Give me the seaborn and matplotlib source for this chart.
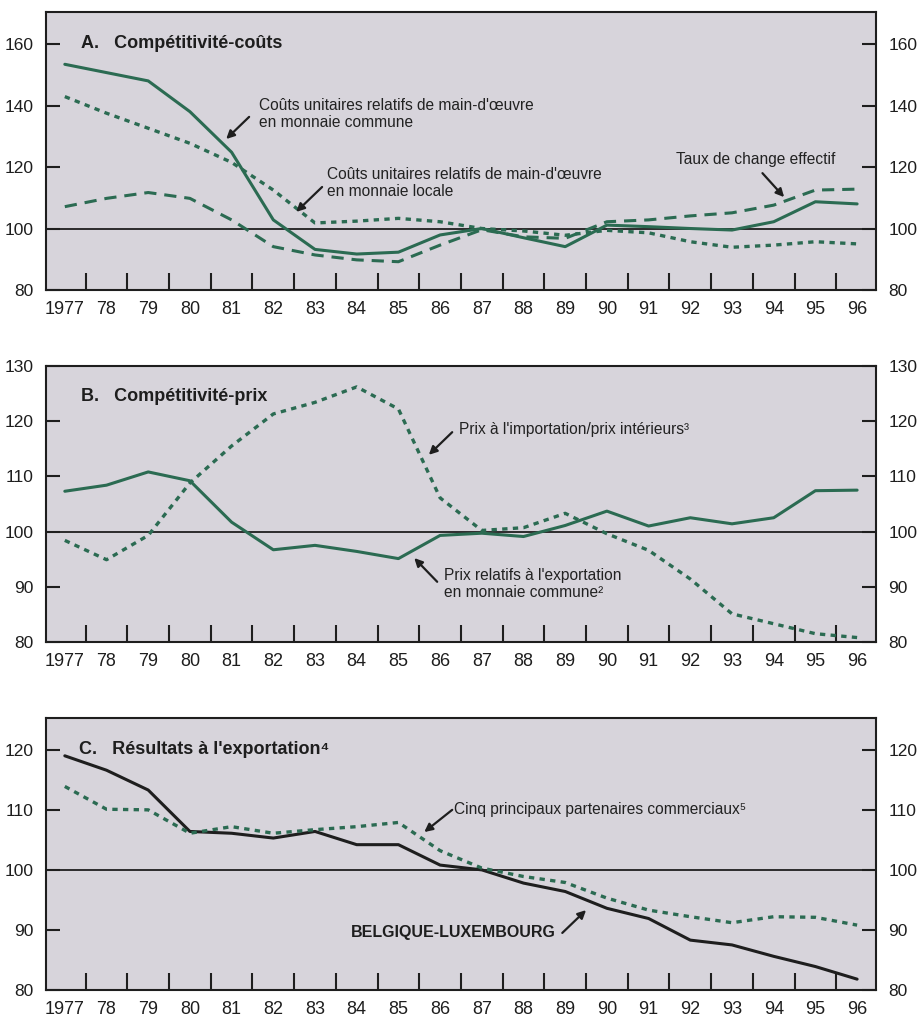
import seaborn as sns
import matplotlib.pyplot as plt
import pandas as pd
import numpy as np

# Data (index 1995 = 100)
years = ['1977', '78', '79', '80', '81', '82', '83', '84', '85', '86',
         '87', '88', '89', '90', '91', '92', '93', '94', '95', '96']

# A. Cost competitiveness
ulc_common = [153.4, 150.7, 148.0, 138.0, 124.8, 102.8, 93.2, 91.7, 92.3, 97.9,
              100.0, 97.0, 94.1, 101.1, 100.6, 100.0, 99.5, 102.2, 108.7, 108.0]
ulc_local = [142.9, 137.5, 132.6, 127.7, 121.5, 112.5, 101.8, 102.4, 103.3, 102.2,
             100.0, 99.2, 97.8, 99.4, 98.6, 95.7, 93.9, 94.6, 95.7, 95.0]
eff_rate = [107.1, 109.8, 111.7, 109.8, 102.8, 94.1, 91.4, 89.8, 89.2, 94.6,
            99.6, 97.3, 96.8, 102.2, 102.8, 104.1, 105.1, 107.6, 112.5, 112.8]

# B. Price competitiveness
export_prices = [107.3, 108.4, 110.8, 109.2, 101.7, 96.7, 97.5, 96.4, 95.1, 99.3,
                 99.7, 99.1, 101.1, 103.7, 101.0, 102.5, 101.4, 102.5, 107.4, 107.5]
import_prices = [98.4, 94.9, 99.3, 108.8, 115.5, 121.3, 123.4, 126.2, 122.2, 106.1,
                 100.2, 100.7, 103.3, 99.6, 96.6, 91.4, 85.1, 83.3, 81.5, 80.8]

# C. Export performance
belux = [119.0, 116.6, 113.3, 106.4, 106.1, 105.3, 106.4, 104.2, 104.2, 100.8,
         100.0, 97.8, 96.4, 93.6, 91.9, 88.3, 87.5, 85.6, 83.9, 81.8]
partners = [113.9, 110.1, 110.0, 106.1, 107.2, 106.1, 106.7, 107.2, 107.9, 103.2,
            100.3, 98.9, 97.9, 95.3, 93.3, 92.2, 91.2, 92.2, 92.1, 90.8]

GREEN = '#2b6b52'
DARK = '#1e1e1e'
BG = '#d7d4db'

sns.set_theme(style='ticks')
plt.rcParams['font.family'] = ['Liberation Sans Narrow', 'Liberation Sans', 'DejaVu Sans']

x = np.arange(len(years))
df = pd.DataFrame({'x': x, 'ulc_common': ulc_common, 'ulc_local': ulc_local,
                   'eff_rate': eff_rate, 'export_prices': export_prices,
                   'import_prices': import_prices, 'belux': belux, 'partners': partners})

fig = plt.figure(figsize=(9.21, 10.19), dpi=100)
L, W = 0.05, 0.901
axA = fig.add_axes([L, 0.7154, W, 0.2728])
axB = fig.add_axes([L, 0.3700, W, 0.2709])
axC = fig.add_axes([L, 0.0285, W, 0.2669])

dotted = (0, (1.6, 1.6))
dashed = (0, (4.0, 2.6))

def style_axis(ax, ylim, yticks):
    ax.set_facecolor(BG)
    ax.set_xlim(-0.45, 19.45)
    ax.set_ylim(*ylim)
    ax.axhline(100, color=DARK, lw=1.3, zorder=1)
    ax.set_xticks(x)
    ax.set_xticklabels(years)
    ax.set_xticks(np.arange(0.5, 19), minor=True)
    ax.tick_params(axis='x', which='major', length=0, pad=8, labelsize=13, colors=DARK)
    ax.tick_params(axis='x', which='minor', direction='in', length=12, width=1.5, color=DARK)
    ax.set_yticks(yticks)
    ax.tick_params(axis='y', direction='in', length=10, width=1.5, color=DARK,
                   left=True, right=True, labelleft=True, labelright=True,
                   labelsize=12.5, pad=9, labelcolor=DARK)
    for s in ax.spines.values():
        s.set_visible(True)
        s.set_color(DARK)
        s.set_linewidth(1.5)
    ax.set_xlabel('')
    ax.set_ylabel('')

arrow_kw = dict(arrowstyle='-|>', color=DARK, lw=1.6, mutation_scale=12, shrinkA=0, shrinkB=0)
lab_kw = dict(fontsize=11.2, color='#222222', family=['Liberation Sans', 'DejaVu Sans'], va='center')
title_kw = dict(fontsize=13, fontweight='bold', color=DARK, va='center',
                family=['Liberation Sans', 'DejaVu Sans'])

# Panel A
sns.lineplot(data=df, x='x', y='ulc_common', ax=axA, color=GREEN, lw=2.2)
sns.lineplot(data=df, x='x', y='ulc_local', ax=axA, color=GREEN, lw=2.4, linestyle=dotted)
sns.lineplot(data=df, x='x', y='eff_rate', ax=axA, color=GREEN, lw=2.2, linestyle=dashed)
style_axis(axA, (80, 170.4), [80, 100, 120, 140, 160])
axA.text(0.385, 160.3, 'A.   Compétitivité-coûts', **title_kw)
axA.text(4.66, 137.2, "Coûts unitaires relatifs de main-d'œuvre\nen monnaie commune", **lab_kw)
axA.annotate('', xy=(3.87, 129.1), xytext=(4.42, 136.3), arrowprops=arrow_kw)
axA.text(6.29, 114.8, "Coûts unitaires relatifs de main-d'œuvre\nen monnaie locale", **lab_kw)
axA.annotate('', xy=(5.55, 105.4), xytext=(6.17, 113.5), arrowprops=arrow_kw)
axA.text(14.66, 122.3, 'Taux de change effectif', **lab_kw)
axA.annotate('', xy=(17.25, 110.2), xytext=(16.73, 118.0), arrowprops=arrow_kw)

# Panel B
sns.lineplot(data=df, x='x', y='export_prices', ax=axB, color=GREEN, lw=2.2)
sns.lineplot(data=df, x='x', y='import_prices', ax=axB, color=GREEN, lw=2.4, linestyle=dotted)
style_axis(axB, (80, 130), [80, 90, 100, 110, 120, 130])
axB.text(0.385, 124.4, 'B.   Compétitivité-prix', **title_kw)
axB.text(9.46, 118.4, "Prix à l'importation/prix intérieurs³", **lab_kw)
axB.annotate('', xy=(8.73, 113.9), xytext=(9.29, 118.0), arrowprops=arrow_kw)
axB.text(9.1, 90.5, "Prix relatifs à l'exportation\nen monnaie commune²", **lab_kw)
axB.annotate('', xy=(8.38, 95.2), xytext=(8.93, 90.9), arrowprops=arrow_kw)

# Panel C
sns.lineplot(data=df, x='x', y='belux', ax=axC, color=DARK, lw=2.2)
sns.lineplot(data=df, x='x', y='partners', ax=axC, color=GREEN, lw=2.4, linestyle=dotted)
style_axis(axC, (80, 125.3), [80, 90, 100, 110, 120])
axC.text(0.34, 120.0, "C.   Résultats à l'exportation⁴", **title_kw)
axC.text(9.34, 110.0, 'Cinq principaux partenaires commerciaux⁵', **lab_kw)
axC.annotate('', xy=(8.62, 106.3), xytext=(9.29, 110.0), arrowprops=arrow_kw)
axC.text(11.78, 89.5, 'BELGIQUE-LUXEMBOURG', ha='right', fontsize=11.5, fontweight='bold',
         color=DARK, va='center', family=['Liberation Sans', 'DejaVu Sans'])
axC.annotate('', xy=(12.5, 93.3), xytext=(11.93, 89.5), arrowprops=arrow_kw)

fig.savefig('out.png', dpi=100, facecolor='white')
